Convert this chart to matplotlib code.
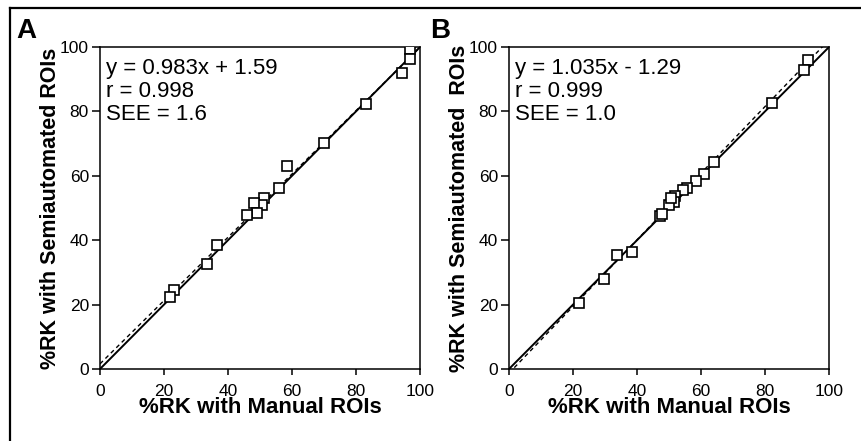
import matplotlib
matplotlib.use('Agg')
import matplotlib.pyplot as plt
from matplotlib import rcParams
from matplotlib.lines import Line2D
import numpy as np

rcParams['font.family'] = ['Liberation Sans', 'DejaVu Sans']

# Panel A: manual vs semiautomated ROIs
a_manual = [97.0, 97.0, 94.5, 83.0, 70.0, 58.5, 56.0, 51.2, 50.5, 48.2, 49.0, 45.8, 36.5, 33.5, 23.2, 21.8]
a_semi = [99.3, 96.4, 91.8, 82.4, 70.2, 63.0, 56.1, 53.0, 50.9, 51.5, 48.4, 47.8, 38.4, 32.6, 24.4, 22.5]
a_slope, a_icpt = 0.983, 1.59
a_text = 'y = 0.983x + 1.59\nr = 0.998\nSEE = 1.6'

# Panel B
b_manual = [93.5, 92.2, 82.1, 64.0, 60.9, 58.5, 55.7, 54.3, 52.0, 51.5, 50.0, 50.5, 47.3, 47.8, 38.5, 33.9, 29.7, 21.9]
b_semi = [96.0, 93.0, 82.7, 64.3, 60.5, 58.5, 56.2, 55.7, 53.6, 51.9, 50.8, 53.0, 47.6, 48.2, 36.4, 35.5, 28.1, 20.5]
b_slope, b_icpt = 1.035, -1.29
b_text = 'y = 1.035x - 1.29\nr = 0.999\nSEE = 1.0'

ticks = [0, 20, 40, 60, 80, 100]

fig = plt.figure(figsize=(8.62, 4.41), dpi=100, facecolor='w')


def panel(rect, xs, ys, slope, icpt, txt, ylab, letter, letter_x):
    ax = fig.add_axes(rect)
    line = np.array([0, 100])
    ax.plot(line, line, 'k-', lw=1.4, zorder=2)
    ax.plot(line, slope * line + icpt, 'k--', lw=1.0, dashes=(3, 2.5), zorder=2)
    ax.plot(xs, ys, ls='none', marker='s', ms=7.5, mfc='w', mec='k', mew=1.2, zorder=3)
    ax.set_xlim(0, 100)
    ax.set_ylim(0, 100)
    ax.set_xticks(ticks)
    ax.set_yticks(ticks)
    ax.tick_params(direction='out', width=1.1, labelsize=12.5)
    ax.tick_params(axis='x', length=4.5, pad=6)
    ax.tick_params(axis='y', length=6, pad=2)
    for s in ax.spines.values():
        s.set_linewidth(1.1)
    ax.set_xlabel('%RK with Manual ROIs', fontsize=16, fontweight='bold', labelpad=-1)
    ax.set_ylabel(ylab, fontsize=15.5, fontweight='bold', labelpad=-1)
    ax.text(0.018, 0.965, txt, transform=ax.transAxes, fontsize=16, va='top', ha='left', linespacing=1.12)
    fig.text(letter_x, 0.96, letter, fontsize=20, fontweight='bold', va='top', ha='left')
    return ax


panel([0.116, 0.1633, 0.3712, 0.730], a_manual, a_semi, a_slope, a_icpt, a_text,
      '%RK with Semiautomated ROIs', 'A', 0.019)
panel([0.5905, 0.1633, 0.3712, 0.730], b_manual, b_semi, b_slope, b_icpt, b_text,
      '%RK with Semiautomated  ROIs', 'B', 0.499)

# frame round the figure (left and top edges)
fig.add_artist(Line2D([0.0116, 0.0116], [0.0, 0.982], color='k', lw=1.6, transform=fig.transFigure))
fig.add_artist(Line2D([0.0116, 1.0], [0.982, 0.982], color='k', lw=1.6, transform=fig.transFigure))

fig.savefig('out.png', dpi=100, facecolor='w')
